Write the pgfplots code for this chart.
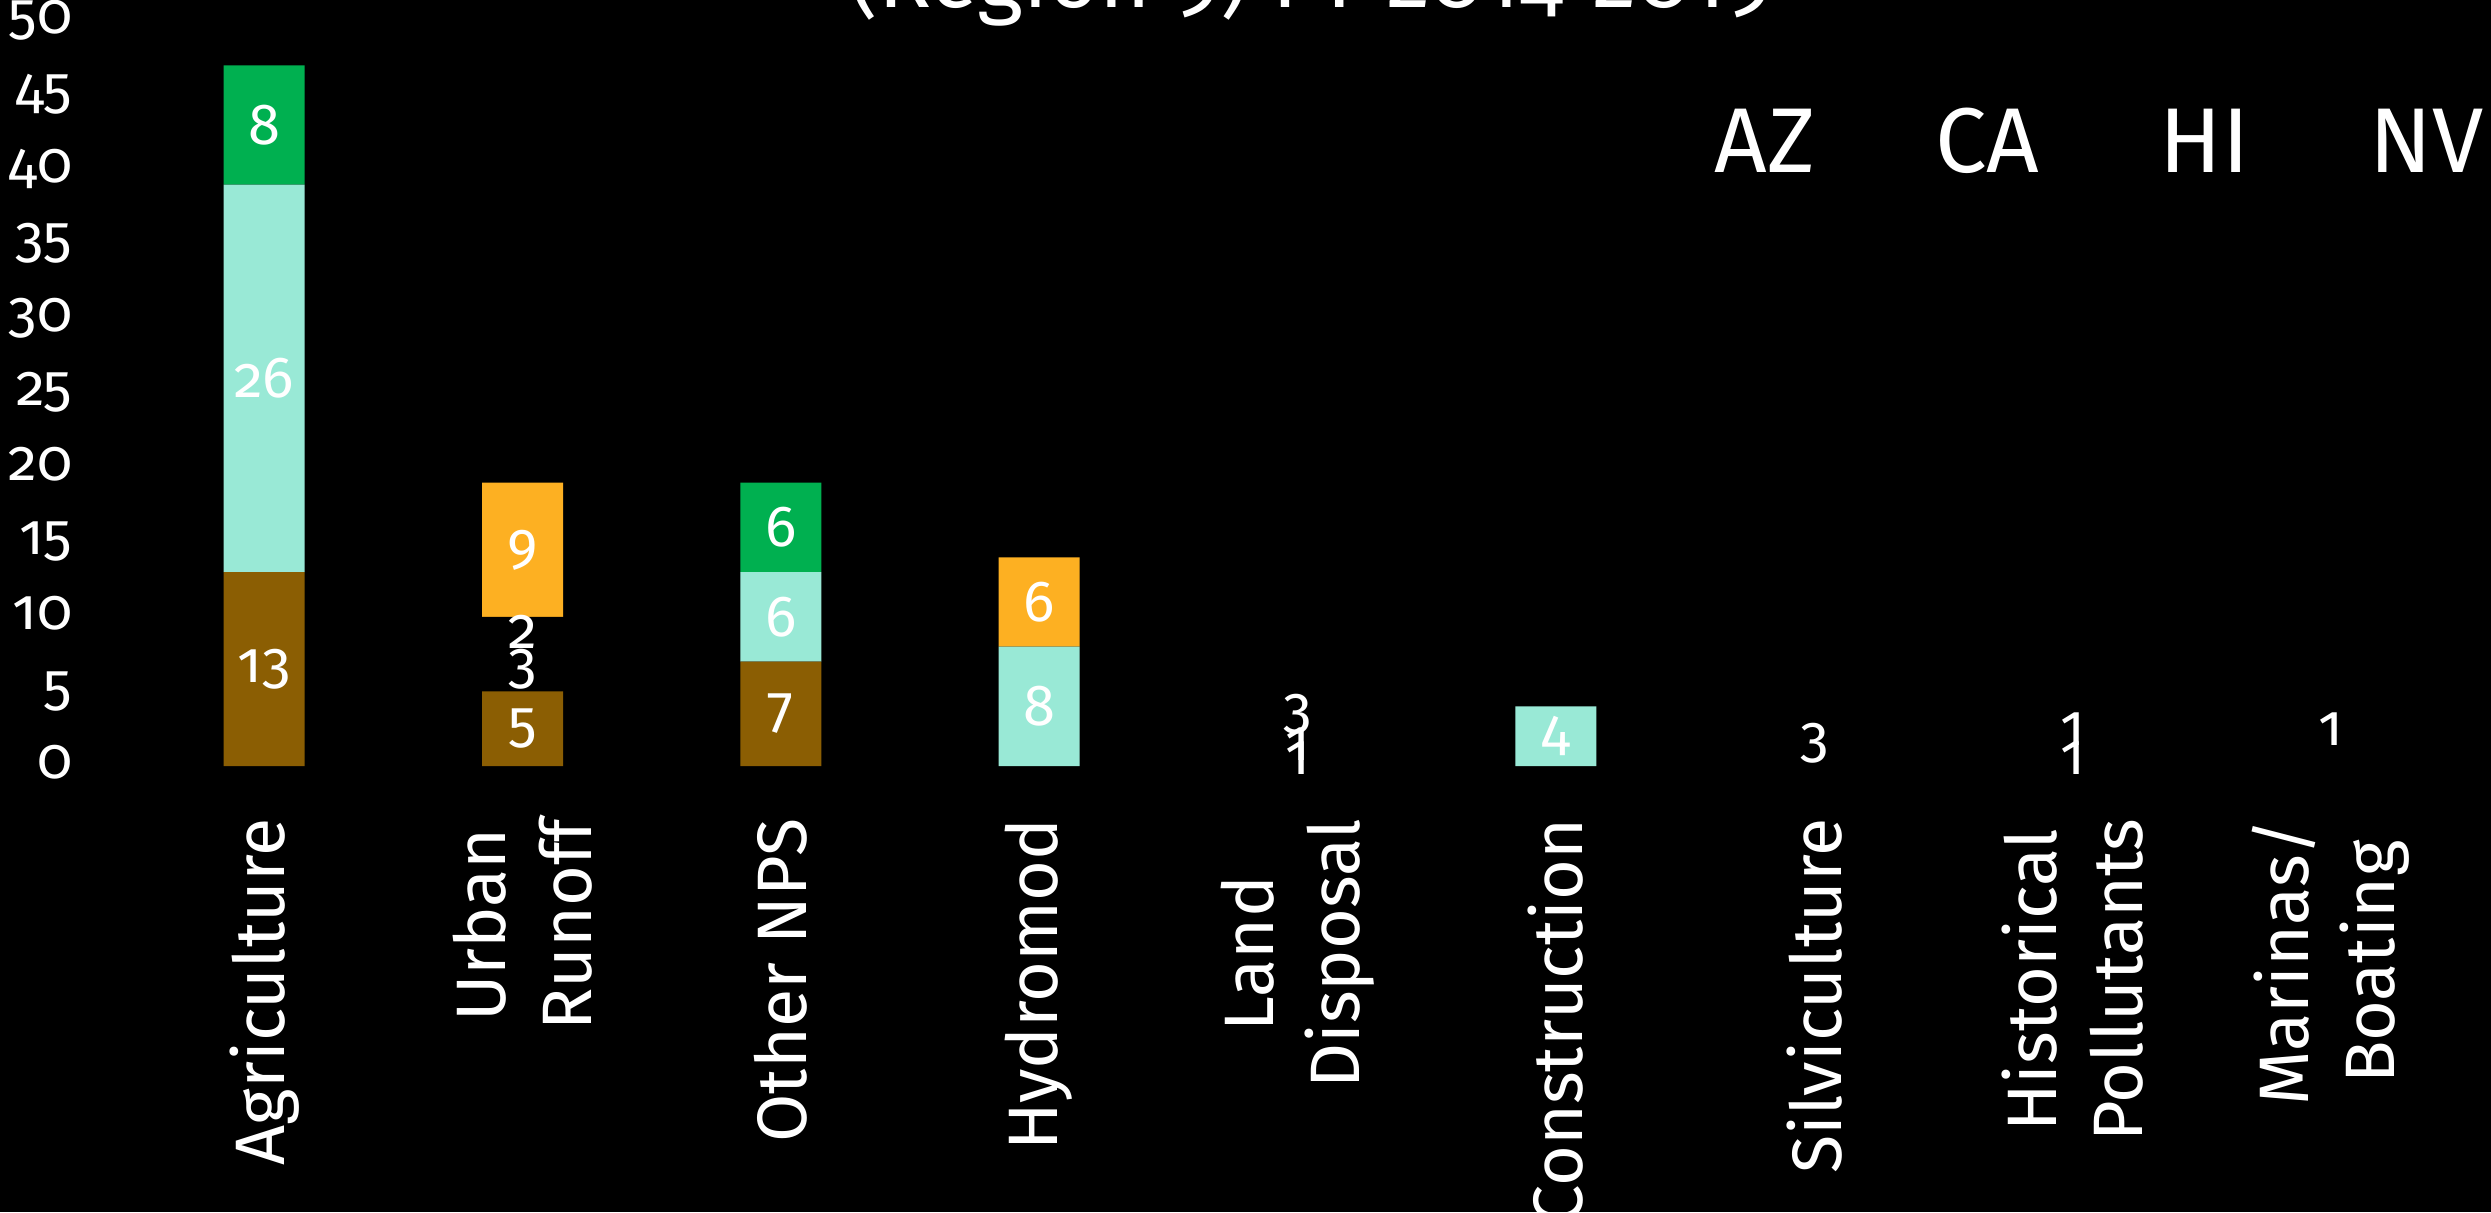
\documentclass[border=0pt]{standalone}
\usepackage{fontspec}
\setmainfont{Fira Sans}[Numbers=OldStyle]
\usepackage{pgfplots}
\usepackage{pgfplotstable}
\pgfplotsset{compat=1.18}
\definecolor{azbrown}{RGB}{139,94,3}
\definecolor{teal}{RGB}{153,233,214}
\definecolor{orng}{RGB}{253,176,34}
\definecolor{grn}{RGB}{0,176,80}

% columns: bottom-to-top stack order; B, C, D, H are black (invisible) series
\pgfplotstableread{
x A B C D E F G H
0 13 0 0 0 26 0 8 0
1 5 3 0 2 0 9 0 0
2 7 0 0 0 6 0 6 0
3 0 0 0 0 8 6 0 0
4 0 1 0 1 0 0 0 3
5 0 0 0 0 4 0 0 0
6 0 3 0 0 0 0 0 0
7 0 1 1 0 0 0 0 1
8 0 0 2 0 0 0 0 1
}\datatable

\pgfplotsset{
  lab/.style={
    point meta=explicit symbolic,
    nodes near coords={\ifnum\pgfplotspointmeta=0 \else\pgfplotspointmeta\fi},
    every node near coord/.append style={anchor=center, inner sep=0pt, text=white,
      font=\fontsize{14.5}{17}\selectfont}
  }
}

\begin{document}
\begin{tikzpicture}[x=1pt,y=1pt]
\fill[black] (-33.75,-111.5) rectangle (589,191.5);
\begin{axis}[
  at={(0pt,0pt)}, anchor=south west,
  scale only axis, width=581.25pt, height=186.375pt,
  ybar stacked, bar width=20.25pt,
  xmin=-0.5, xmax=8.5, ymin=0, ymax=50,
  xtick={0,...,8},
  xticklabels={Agriculture,{Urban\\Runoff},Other NPS,Hydromod,{Land\\Disposal},Construction,Silviculture,{Historical\\Pollutants},{Marinas/\\Boating}},
  ytick={0,5,...,50},
  axis line style={draw=none},
  major tick length=0pt,
  tick style={draw=none},
  /pgf/number format/assume math mode=true,
  x tick label style={yshift=-13pt, rotate=90, anchor=east, align=center, inner sep=0pt,
     font=\fontsize{17.5}{21.5}\selectfont, text=white},
  y tick label style={anchor=east, inner sep=0pt, xshift=-15.5pt, yshift=-0.5pt,
     text height=0.53em, text depth=0pt, font=\fontsize{14.5}{17}\selectfont, text=white},
  title={(Region 9) FY 2014-2019},
  title style={at={(axis description cs:0.5058,0.985)}, anchor=base, inner sep=0pt,
     text=white, font=\fontsize{22}{26}\selectfont},
  legend entries={AZ,CA,HI,NV},
  legend style={at={(axis description cs:1.01032,0.8349)}, anchor=east, draw=none, fill=none,
     inner sep=0pt, text=white, font=\fontsize{23}{27}\selectfont, legend columns=4,
     nodes={inner sep=0pt},
     /tikz/every even column/.append style={column sep=30pt}},
]
\addlegendimage{empty legend}
\addlegendimage{empty legend}
\addlegendimage{empty legend}
\addlegendimage{empty legend}
\addplot[fill=azbrown, draw=none, lab] table[x=x, y=A, meta=A] {\datatable};
\addplot[fill=black, draw=none, lab] table[x=x, y=B, meta=B] {\datatable};
\addplot[fill=black, draw=none] table[x=x, y=C] {\datatable};
\addplot[fill=black, draw=none, lab] table[x=x, y=D, meta=D] {\datatable};
\addplot[fill=teal, draw=none, lab] table[x=x, y=E, meta=E] {\datatable};
\addplot[fill=orng, draw=none, lab] table[x=x, y=F, meta=F] {\datatable};
\addplot[fill=grn, draw=none, lab] table[x=x, y=G, meta=G] {\datatable};
\addplot[fill=black, draw=none, lab] table[x=x, y=H, meta=H] {\datatable};
\end{axis}
\pgfresetboundingbox
\path[use as bounding box] (-33.75,-111.5) rectangle (589,191.5);
\end{tikzpicture}
\end{document}
